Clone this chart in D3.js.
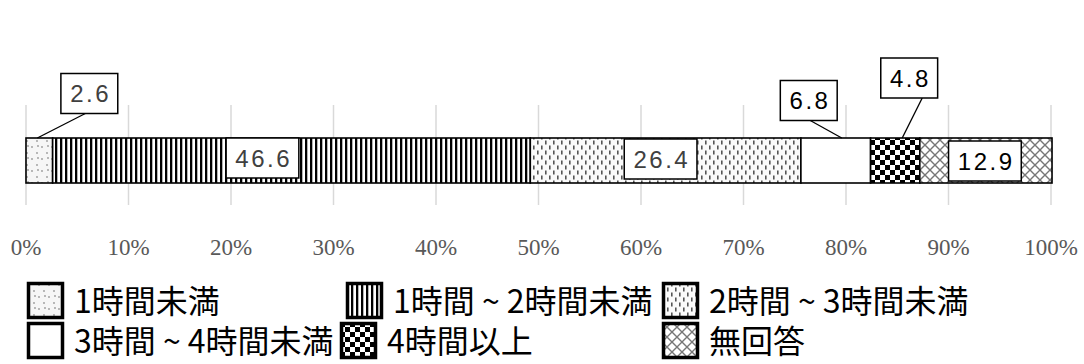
<!DOCTYPE html>
<html lang="ja">
<head>
<meta charset="UTF-8">
<script src="https://d3js.org/d3.v7.min.js"></script>
<style>
  body { margin: 0; background: #fff; }
  svg { display: block; }
  .tick-label { font-family: "Liberation Serif", "DejaVu Serif", serif; font-size: 23px; fill: #595959; }
  .val { font-family: "Liberation Sans", Arial, sans-serif; font-size: 24px; letter-spacing: 2.5px; }
  .leg { font-family: "Noto Sans CJK JP", sans-serif; font-size: 32px; fill: #000; }
</style>
</head>
<body>
<svg width="1084" height="364"></svg>
<script>
// data
const categories = ["1時間未満", "1時間 ~ 2時間未満", "2時間 ~ 3時間未満", "3時間 ~ 4時間未満", "4時間以上", "無回答"];
const values = [2.6, 46.6, 26.4, 6.8, 4.8, 12.9];
const tickValues = [0, 10, 20, 30, 40, 50, 60, 70, 80, 90, 100];
const patternIds = ["pDots", "pStripes", "pDashes", "pWhite", "pChecker", "pCross"];

// label box placement relative to the segment centre; leader ends (lx0 from box, lx1 from segment)
const labelOffsets = [
  { dx: 50, dy: -67, leader: true, lx0: -4, lx1: -2, color: "#404040" },
  { dx: -29, dy: -2.5, leader: false, color: "#404040" },
  { dx: -5, dy: -1.5, leader: false, color: "#404040" },
  { dx: -27, dy: -60, leader: true, lx0: 1.5, lx1: 6, color: "#000" },
  { dx: 14, dy: -82.5, leader: true, lx0: 13, lx1: 7, color: "#000" },
  { dx: -1, dy: 0.5, leader: false, color: "#000" }
];

const svg = d3.select("svg");
const x = d3.scaleLinear().domain([0, 100]).range([26, 1051]);
const barTop = 138, barH = 45;

// fill patterns
const defs = svg.append("defs");
function pat(id, w, h) {
  return defs.append("pattern").attr("id", id).attr("patternUnits", "userSpaceOnUse")
    .attr("width", w).attr("height", h);
}
let p = pat("pDots", 10, 12);
p.append("rect").attr("width", 10).attr("height", 12).attr("fill", "#f6f6f6");
[[2, 3], [7, 9], [8, 2]].forEach(d => p.append("circle").attr("cx", d[0]).attr("cy", d[1]).attr("r", 0.9).attr("fill", "#9a9a9a"));

p = pat("pStripes", 5, 5);
p.append("rect").attr("width", 5).attr("height", 5).attr("fill", "#fff");
p.append("rect").attr("width", 2.3).attr("height", 5).attr("fill", "#000");

p = pat("pDashes", 8, 10);
p.append("rect").attr("width", 8).attr("height", 10).attr("fill", "#fafafa");
[[1, 0.5], [5, 5.5]].forEach(d => p.append("rect").attr("x", d[0]).attr("y", d[1]).attr("width", 1.6).attr("height", 4).attr("fill", "#555"));

p = pat("pWhite", 4, 4);
p.append("rect").attr("width", 4).attr("height", 4).attr("fill", "#fff");

p = pat("pChecker", 10, 10);
p.append("rect").attr("width", 10).attr("height", 10).attr("fill", "#fff");
p.append("rect").attr("width", 5).attr("height", 5).attr("fill", "#000");
p.append("rect").attr("x", 5).attr("y", 5).attr("width", 5).attr("height", 5).attr("fill", "#000");

p = pat("pCross", 10, 10);
p.append("rect").attr("width", 10).attr("height", 10).attr("fill", "#fff");
p.append("path").attr("d", "M0,0L10,10M10,0L0,10").attr("stroke", "#777").attr("stroke-width", 1.4);

// gridlines
svg.append("g").selectAll("line").data(tickValues).join("line")
  .attr("x1", d => x(d)).attr("x2", d => x(d))
  .attr("y1", 105).attr("y2", 205)
  .attr("stroke", "#d9d9d9").attr("stroke-width", 1.5);

// tick labels
svg.append("g").selectAll("text").data(tickValues).join("text")
  .attr("class", "tick-label")
  .attr("x", d => x(d)).attr("y", 255)
  .attr("text-anchor", "middle")
  .text(d => d + "%");

// stacked segments
const starts = values.map((v, i) => d3.sum(values.slice(0, i)));
svg.append("g").selectAll("rect").data(values).join("rect")
  .attr("x", (d, i) => x(starts[i]))
  .attr("y", barTop)
  .attr("width", (d, i) => x(starts[i] + d) - x(starts[i]))
  .attr("height", barH)
  .attr("fill", (d, i) => `url(#${patternIds[i]})`)
  .attr("stroke", "#000").attr("stroke-width", 1.6);

// value labels in boxes
const lg = svg.append("g");
values.forEach((v, i) => {
  const o = labelOffsets[i];
  const cx = x(starts[i] + v / 2);
  const bx = cx + o.dx, by = barTop + barH / 2 + o.dy;
  const g = lg.append("g");
  const t = g.append("text").attr("class", "val")
    .attr("x", bx + 1.25).attr("y", by).attr("dy", "0.36em")
    .attr("text-anchor", "middle").attr("fill", o.color)
    .text(v.toFixed(1));
  const w = t.node().getComputedTextLength() + 16, h = 40;
  g.insert("rect", "text")
    .attr("x", bx - w / 2).attr("y", by - h / 2)
    .attr("width", w).attr("height", h)
    .attr("fill", "#fff").attr("stroke", "#000").attr("stroke-width", 1.5);
  if (o.leader) {
    g.insert("line", "rect")
      .attr("x1", bx + o.lx0).attr("y1", by + h / 2)
      .attr("x2", cx + o.lx1).attr("y2", barTop)
      .attr("stroke", "#000").attr("stroke-width", 1.3);
  }
});

// legend
const legendPos = [[27, 282], [346, 282], [662, 282], [27, 322], [340, 322], [662, 322]];
const leg = svg.append("g").selectAll("g").data(categories).join("g")
  .attr("transform", (d, i) => `translate(${legendPos[i][0]},${legendPos[i][1]})`);
leg.append("rect")
  .attr("x", 1.5).attr("y", 1.5).attr("width", 34).attr("height", 34)
  .attr("fill", (d, i) => `url(#${patternIds[i]})`)
  .attr("stroke", "#000").attr("stroke-width", 3.5);
leg.append("text").attr("class", "leg")
  .attr("x", 47).attr("y", 19).attr("dy", "0.36em")
  .text(d => d);
</script>
</body>
</html>
